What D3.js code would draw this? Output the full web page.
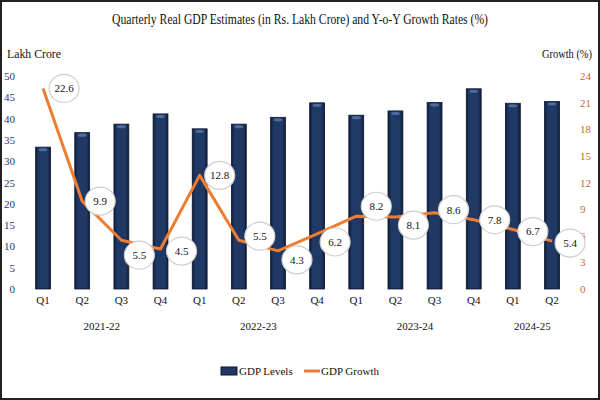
<!DOCTYPE html>
<html><head><meta charset="utf-8">
<script src="https://cdn.jsdelivr.net/npm/d3@7"></script>
<style>body{margin:0;background:#fff}svg{display:block}</style>
</head><body>
<svg id="c" width="600" height="400"></svg>
<script>
const quarters = ["Q1","Q2","Q3","Q4","Q1","Q2","Q3","Q4","Q1","Q2","Q3","Q4","Q1","Q2"];
const years = ["2021-22","2022-23","2023-24","2024-25"];
const yearFirst = [0,4,8,12];
const yearLast = [3,7,11,13];
const gdpLevels = [33.3,36.7,38.7,41.1,37.6,38.7,40.3,43.7,40.8,41.8,43.8,47.0,43.6,44.0];
const gdpGrowth = [22.6,9.9,5.5,4.5,12.8,5.5,4.3,6.2,8.2,8.1,8.6,7.8,6.7,5.4];
const leftTicks = [0,5,10,15,20,25,30,35,40,45,50];
const rightTicks = [0,3,6,9,12,15,18,21,24];
// label layout offsets (pixels, layout only)
const labelDx = [21,18,18,21,20,21,19,18,20,18,19,21,20,18];
const labelDy = [0,0,15,2,0,-4,9,8,-10,8,-3,0,2,2];

const svg = d3.select("#c");
const serif = "'Liberation Serif','DejaVu Serif',serif";
const navy = "#1f3864", orange = "#ed7d31", orangeTxt = "#c9682a";

// border
svg.append("rect").attr("x",1).attr("y",1).attr("width",598).attr("height",398)
  .attr("fill","#fff").attr("stroke","#222").attr("stroke-width",2);

const defs = svg.append("defs");
const g = defs.append("linearGradient").attr("id","barg").attr("x1","0").attr("x2","1").attr("y1","0").attr("y2","0");
g.append("stop").attr("offset","0").attr("stop-color","#0e1c38");
g.append("stop").attr("offset","0.2").attr("stop-color","#1f3864");
g.append("stop").attr("offset","0.8").attr("stop-color","#1f3864");
g.append("stop").attr("offset","1").attr("stop-color","#0e1c38");

const x = d3.scaleBand().domain(d3.range(quarters.length)).range([23.5,571.6])
  .paddingInner(0.62).paddingOuter(0.31);
const yL = d3.scaleLinear().domain([0,50]).range([289,76]);
const yR = d3.scaleLinear().domain([0,24]).range([289,76]);
const cx = i => x(i) + x.bandwidth()/2;

// title
svg.append("text").attr("x",300).attr("y",24).attr("text-anchor","middle")
  .attr("font-family",serif).attr("font-size",14).attr("fill","#111")
  .attr("textLength",376).attr("lengthAdjust","spacingAndGlyphs")
  .text("Quarterly Real GDP Estimates (in Rs. Lakh Crore) and Y-o-Y Growth Rates (%)");
svg.append("text").attr("x",7).attr("y",58).attr("font-family",serif).attr("font-size",12)
  .attr("fill","#111").attr("textLength",54).attr("lengthAdjust","spacingAndGlyphs").text("Lakh Crore");
svg.append("text").attr("x",592).attr("y",58).attr("text-anchor","end").attr("font-family",serif).attr("font-size",12)
  .attr("fill","#111").attr("textLength",50).attr("lengthAdjust","spacingAndGlyphs").text("Growth (%)");

// axes
const axL = d3.axisLeft(yL).tickValues(leftTicks).tickSize(0).tickPadding(0);
const gl = svg.append("g").attr("transform","translate(15,0)").call(axL);
gl.select(".domain").remove();
gl.selectAll("text").attr("font-family",serif).attr("font-size",11).attr("fill",navy);

const axR = d3.axisRight(yR).tickValues(rightTicks).tickSize(0).tickPadding(0);
const gr = svg.append("g").attr("transform","translate(580,0)").call(axR);
gr.select(".domain").remove();
gr.selectAll("text").attr("font-family",serif).attr("font-size",11).attr("fill",orangeTxt);

const axB = d3.axisBottom(x).tickFormat(i=>quarters[i]).tickSize(0).tickPadding(0);
const gb = svg.append("g").attr("transform","translate(0,296)").call(axB);
gb.select(".domain").remove();
gb.selectAll("text").attr("font-family",serif).attr("font-size",11).attr("fill","#111");

svg.append("g").selectAll("text").data(years).join("text")
  .attr("x",(d,i)=>(cx(yearFirst[i])+cx(yearLast[i]))/2)
  .attr("y",330).attr("text-anchor","middle").attr("font-family",serif).attr("font-size",11)
  .attr("fill","#111").text(d=>d);

// bars
const bars = svg.append("g");
bars.selectAll("rect").data(gdpLevels).join("rect")
  .attr("x",(d,i)=>x(i)).attr("width",x.bandwidth())
  .attr("y",d=>yL(d)).attr("height",d=>yL(0)-yL(d))
  .attr("fill","url(#barg)").attr("stroke","#0b1630").attr("stroke-width",0.8);
bars.selectAll("ellipse").data(gdpLevels).join("ellipse")
  .attr("cx",(d,i)=>cx(i)).attr("cy",d=>yL(d)+2.5)
  .attr("rx",x.bandwidth()/2-3).attr("ry",1.6).attr("fill","#5a78ad").attr("opacity",0.8);

// growth line
const line = d3.line().x((d,i)=>cx(i)).y(d=>yR(d));
svg.append("path").datum(gdpGrowth).attr("d",line).attr("fill","none")
  .attr("stroke",orange).attr("stroke-width",3).attr("stroke-linejoin","round");

// labels
const lab = svg.append("g").selectAll("g").data(gdpGrowth).join("g")
  .attr("transform",(d,i)=>`translate(${cx(i)+labelDx[i]},${yR(d)+labelDy[i]})`);
lab.append("ellipse").attr("rx",15).attr("ry",14).attr("fill","#fff")
  .attr("stroke","#cfcfcf").attr("stroke-width",1.2);
lab.append("text").attr("text-anchor","middle").attr("dy","0.35em")
  .attr("font-family",serif).attr("font-size",11).attr("fill","#111").text(d=>d.toFixed(1));

// legend
const lg = svg.append("g");
lg.append("rect").attr("x",221).attr("y",367).attr("width",16).attr("height",8).attr("fill",navy).attr("stroke","#0b1630");
lg.append("text").attr("x",239).attr("y",375).attr("font-family",serif).attr("font-size",11).attr("fill","#111").text("GDP Levels");
lg.append("line").attr("x1",304).attr("x2",320).attr("y1",371).attr("y2",371).attr("stroke",orange).attr("stroke-width",3);
lg.append("text").attr("x",321).attr("y",375).attr("font-family",serif).attr("font-size",11).attr("fill","#111").text("GDP Growth");
</script>
</body></html>
